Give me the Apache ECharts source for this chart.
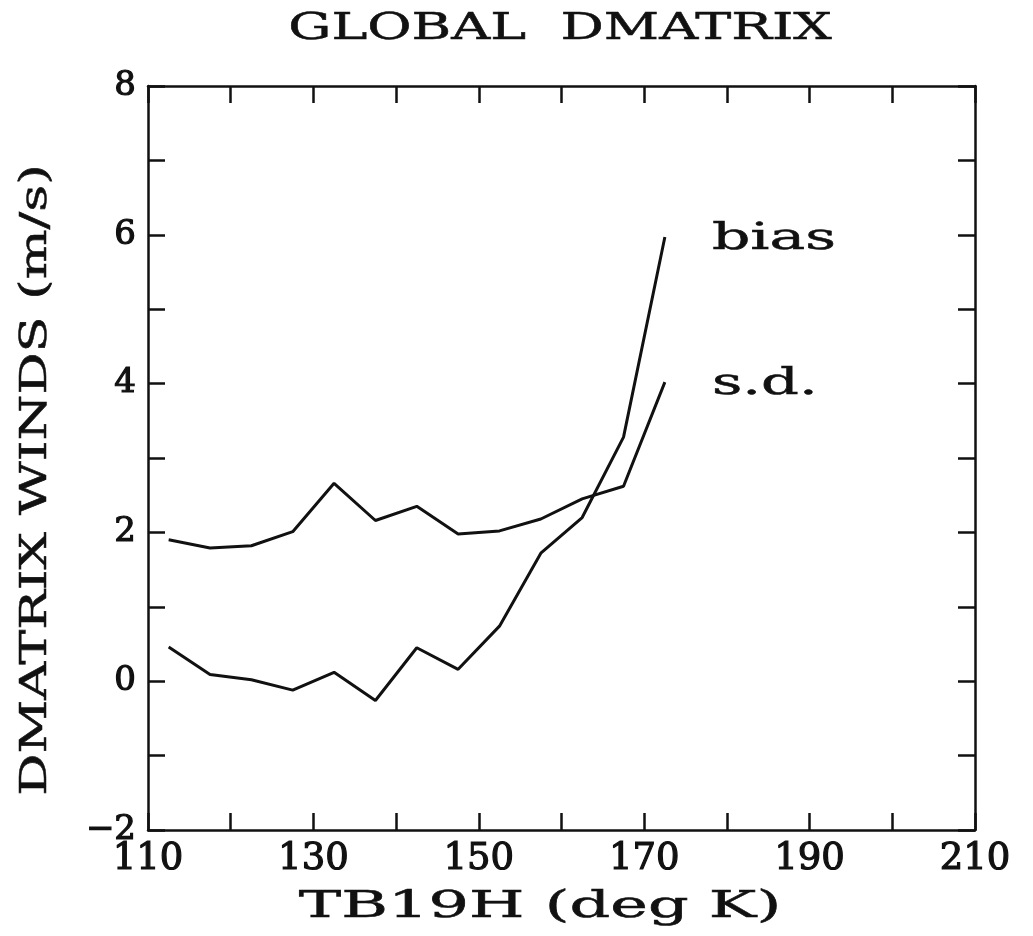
<!DOCTYPE html>
<html>
<head>
<meta charset="utf-8">
<title>GLOBAL DMATRIX</title>
<script src="https://cdn.jsdelivr.net/npm/echarts@6/dist/echarts.min.js"></script>
<style>
  html, body { margin: 0; padding: 0; background: #fff; }
  #chart { width: 1033px; height: 936px; }
</style>
</head>
<body>
<div id="chart"></div>
<script>
// Brightness temperature bin centres (deg K)
const tb19h = [112.5, 117.5, 122.5, 127.5, 132.5, 137.5, 142.5, 147.5, 152.5, 157.5, 162.5, 167.5, 172.5];
// DMATRIX wind bias (m/s)
const biasValues = [0.46, 0.09, 0.02, -0.12, 0.12, -0.26, 0.45, 0.16, 0.74, 1.72, 2.20, 3.28, 5.97];
// DMATRIX wind standard deviation (m/s)
const sdValues = [1.90, 1.79, 1.82, 2.01, 2.66, 2.16, 2.35, 1.98, 2.02, 2.18, 2.45, 2.62, 4.02];
// Axis tick labels
const xTickLabels = [110, 130, 150, 170, 190, 210];
const yTickLabels = [-2, 0, 2, 4, 6, 8];

const FONT_FAMILY = '"DejaVu Serif", serif';
const INK = '#111';

const pairs = (xs, ys) => xs.map((x, i) => [x, ys[i]]);

const chart = echarts.init(document.getElementById('chart'), null, { renderer: 'canvas' });

const tickStyle = { show: true, inside: true, length: 17, lineStyle: { color: INK, width: 2.5 } };
const axisLineStyle = { show: true, onZero: false, lineStyle: { color: INK, width: 2.5 } };
const labelFont = { fontFamily: FONT_FAMILY, fontWeight: 'normal', color: INK,
                    textBorderColor: INK, textBorderWidth: 1.2 };

chart.setOption({
  backgroundColor: '#fff',
  animation: false,
  grid: { left: 148, right: 58, top: 86, bottom: 106 },
  xAxis: [
    {
      type: 'value', min: 110, max: 210, interval: 10,
      axisLine: axisLineStyle, axisTick: tickStyle, splitLine: { show: false },
      axisLabel: Object.assign({ margin: 11, fontSize: 37,
        formatter: v => (xTickLabels.includes(v) ? String(v) : '') }, labelFont)
    },
    {
      type: 'value', min: 110, max: 210, interval: 10, position: 'top',
      axisLine: axisLineStyle, axisTick: tickStyle, axisLabel: { show: false }, splitLine: { show: false }
    }
  ],
  yAxis: [
    {
      type: 'value', min: -2, max: 8, interval: 1,
      axisLine: axisLineStyle, axisTick: tickStyle, splitLine: { show: false },
      axisLabel: Object.assign({ margin: 12, fontSize: 34,
        formatter: v => (yTickLabels.includes(v) ? (v < 0 ? '\u2212' + Math.abs(v) : String(v)) : '') }, labelFont)
    },
    {
      type: 'value', min: -2, max: 8, interval: 1, position: 'right',
      axisLine: axisLineStyle, axisTick: tickStyle, axisLabel: { show: false }, splitLine: { show: false }
    }
  ],
  series: [
    { name: 'bias', type: 'line', data: pairs(tb19h, biasValues), symbol: 'none',
      lineStyle: { color: INK, width: 3 } },
    { name: 's.d.', type: 'line', data: pairs(tb19h, sdValues), symbol: 'none',
      lineStyle: { color: INK, width: 3 } }
  ]
});

// Plotter lettering is set wide: stretch the text horizontally around its anchor
function wideText(text, x, y, size, stretch, align, opts) {
  return Object.assign({
    type: 'text', x: x, y: y, scaleX: stretch, scaleY: 1,
    style: { text: text, x: 0, y: 0, align: align, verticalAlign: 'middle',
             font: size + 'px ' + FONT_FAMILY, fill: INK, stroke: INK, lineWidth: 0.5 }
  }, opts || {});
}

const last = tb19h.length - 1;
const biasEnd = chart.convertToPixel({ gridIndex: 0 }, [tb19h[last], biasValues[last]]);
const sdEnd = chart.convertToPixel({ gridIndex: 0 }, [tb19h[last], sdValues[last]]);
const tagGap = 47;

chart.setOption({
  graphic: [
    wideText('GLOBAL  DMATRIX', 560, 29, 37, 1.46, 'center'),
    wideText('TB19H (deg K)', 540, 907, 37, 1.72, 'center'),
    wideText('DMATRIX WINDS (m/s)', 36, 480, 37, 1.42, 'center', { rotation: Math.PI / 2 }),
    wideText('bias', biasEnd[0] + tagGap, biasEnd[1] + 2, 37, 1.62, 'left'),
    wideText('s.d.', sdEnd[0] + tagGap, sdEnd[1] + 2, 37, 1.6, 'left')
  ]
});
</script>
</body>
</html>
